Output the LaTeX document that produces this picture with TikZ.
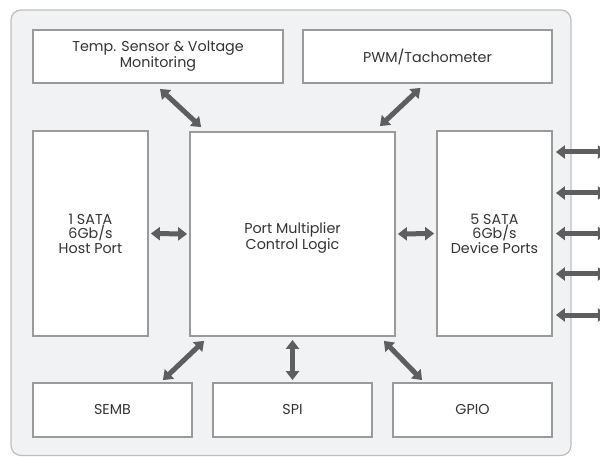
\documentclass[tikz,border=0pt]{standalone}
\usepackage{fontspec}
\setmainfont{Poppins}
\usetikzlibrary{arrows.meta,calc}
\definecolor{bgfill}{HTML}{F1F2F4}
\definecolor{bgline}{HTML}{BDBEC0}
\definecolor{boxline}{HTML}{9A9A9A}
\definecolor{arrcol}{HTML}{5E5E60}
\definecolor{txtcol}{HTML}{333333}
\tikzset{
  blk/.style={draw=boxline, line width=1.8pt, fill=white, inner sep=0pt, align=center,
    text=txtcol, font=\fontsize{14.3}{14.5}\selectfont},
  lbl/.style={inner sep=0pt, align=center, text=txtcol, font=\fontsize{14.3}{14.5}\selectfont},
  arr/.style={draw=arrcol, line width=5pt, {Triangle[length=9pt,width=13pt]}-{Triangle[length=9pt,width=13pt]}},
}
\begin{document}
\begin{tikzpicture}[x=1pt,y=-1pt]
\useasboundingbox (0,0) rectangle (600,457);
\clip (0,0) rectangle (600,457);
\draw[draw=bgline, fill=bgfill, line width=1.2pt, rounded corners=10pt] (11,10) rectangle (571,455.5);
% blocks
\node[blk, minimum width=250pt, minimum height=53pt] (temp) at (158,56.5) {Temp. Sensor \& Voltage\\Monitoring};
\node[blk, minimum width=249pt, minimum height=53pt] (pwm) at (427.5,56.5) {PWM/Tachometer};
\node[blk, minimum width=115pt, minimum height=205pt] (host) at (90.5,233.5) {1 SATA\\6Gb/s\\Host Port};
\node[blk, minimum width=205pt, minimum height=204pt] (ctrl) at (292.5,234) {};
\node[lbl] (ctrltxt) at ($(ctrl)+(0,4)$) {Port Multiplier\\Control Logic};
\node[blk, minimum width=115pt, minimum height=205pt] (dev) at (494.5,233.5) {5 SATA\\6Gb/s\\Device Ports};
\node[blk, minimum width=159pt, minimum height=54pt] (semb) at (112.5,410) {SEMB};
\node[blk, minimum width=159pt, minimum height=54pt] (spi) at (292.5,410) {SPI};
\node[blk, minimum width=159pt, minimum height=54pt] (gpio) at (472.5,410) {GPIO};
% connectors
\draw[arr] ($(temp.south)+(2,5)$) -- ($(ctrl.north west)+(12,-4)$);
\draw[arr] ($(pwm.south)+(-7,4)$) -- ($(ctrl.north east)+(-16,-5)$);
\draw[arr] ($(host.east)+(2,0)$) -- ($(ctrl.west)+(-2,0)$);
\draw[arr] ($(ctrl.east)+(2,0)$) -- ($(dev.west)+(-2,0)$);
\draw[arr] ($(ctrl.south west)+(15,4)$) -- ($(semb.north east)+(-30,-2)$);
\draw[arr] ($(ctrl.south)+(0,3)$) -- ($(spi.north)+(0,-2)$);
\draw[arr] ($(ctrl.south east)+(-12,4)$) -- ($(gpio.north west)+(30,-2)$);
\foreach \i/\dy in {1/-81.5,2/-40.5,3/0,4/40.5,5/81.5}{
  \coordinate (out\i) at ($(dev.east)+(54,\dy)$);
  \draw[arr] ($(dev.east)+(3,\dy)$) -- (out\i);
}
\end{tikzpicture}
\end{document}
